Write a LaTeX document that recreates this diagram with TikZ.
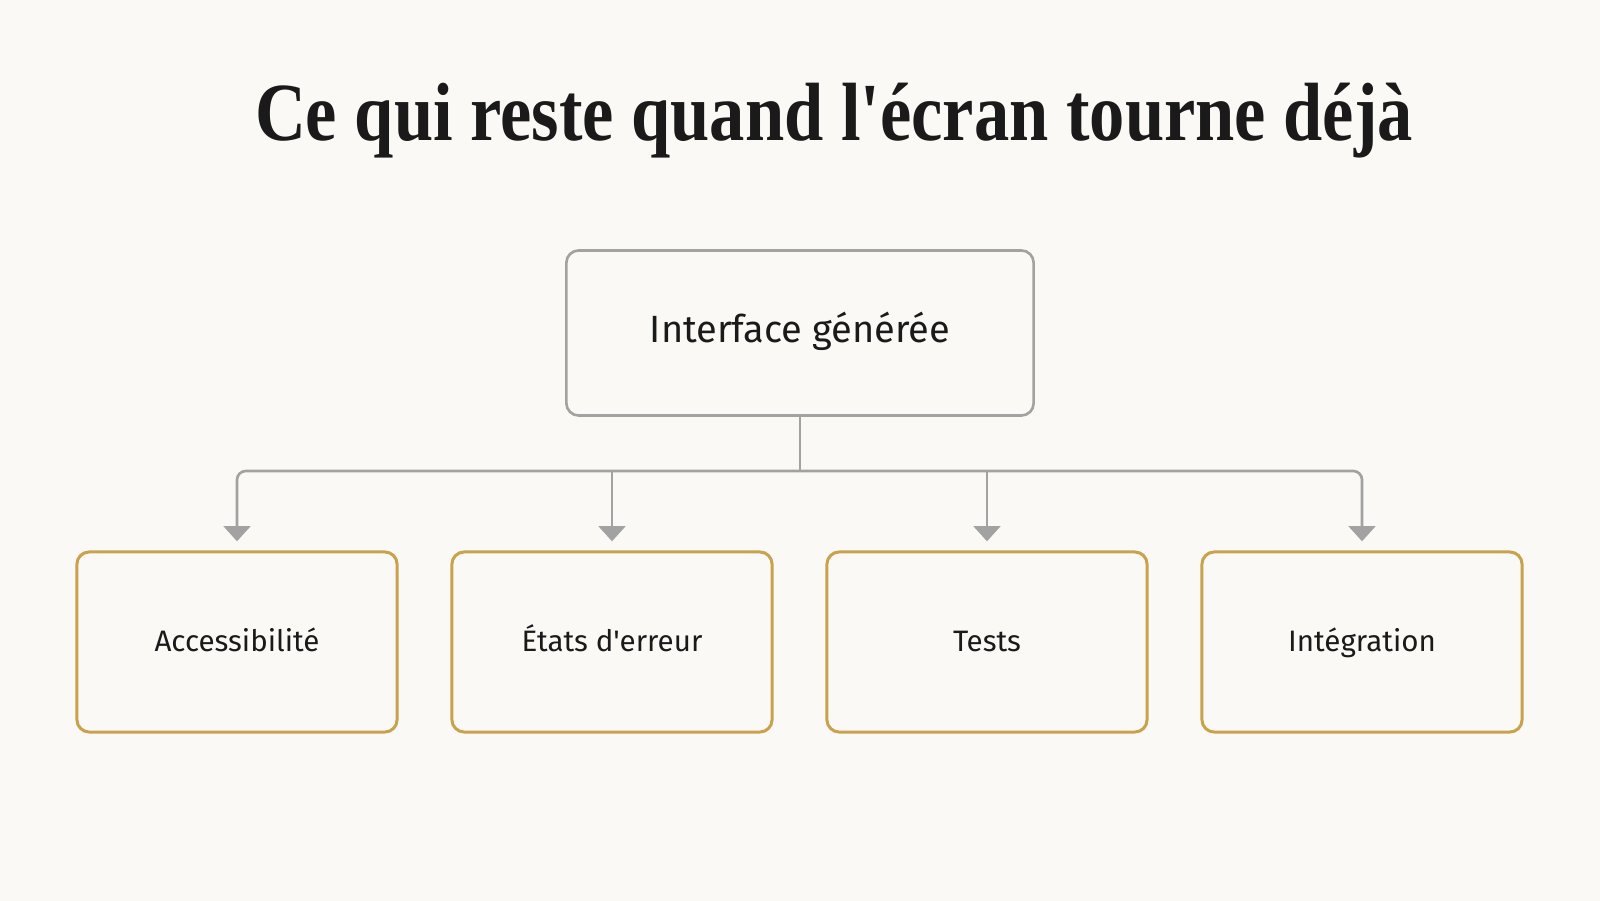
\documentclass[tikz,border=0pt]{standalone}
\usepackage{fontspec}
\usepackage{graphicx}
\newfontfamily\titlefont{Liberation Serif}
\newfontfamily\labelfont{Fira Sans}
\usetikzlibrary{arrows.meta}
\definecolor{paper}{HTML}{FAF9F5}
\definecolor{ink}{HTML}{1A1A1A}
\definecolor{wire}{HTML}{A2A2A2}
\definecolor{gold}{HTML}{C9A24E}
\begin{document}
\begin{tikzpicture}[x=0.01cm,y=-0.01cm,
	   topbox/.style={draw=wire,line width=0.75pt,rounded corners=3.5pt,fill=paper,text=ink,text height=1.8ex,text depth=0.5ex},
	   leafbox/.style={draw=gold,line width=0.85pt,rounded corners=3.5pt,fill=paper,text=ink,text height=1.8ex,text depth=0.5ex},
	   conn/.style={draw=wire,line width=0.75pt,rounded corners=2.5pt},
	   tip/.style={-{Triangle[width=7.6pt,length=4.3pt]},shorten >=2.6pt}]
	   \fill [paper] (0,0) rectangle (1600,901);
	   \useasboundingbox (0,0) rectangle (1600,901);
	   \node (title) [text=ink,font=\titlefont\bfseries\fontsize{23.5}{28}\selectfont,anchor=base] at (834,141) {\scalebox{0.853}[1]{Ce qui reste quand l'écran tourne déjà}};
	   \node (top) [topbox,minimum width=4.67cm,minimum height=1.65cm,font=\labelfont\fontsize{10.8}{13}\selectfont] at (800,333) {Interface générée};
	   \node (acc) [leafbox,minimum width=3.2cm,minimum height=1.8cm,font=\labelfont\fontsize{8.4}{10}\selectfont] at (237,642) {Accessibilité};
	   \node (err) [leafbox,minimum width=3.2cm,minimum height=1.8cm,font=\labelfont\fontsize{8.4}{10}\selectfont] at (612,642) {États d'erreur};
	   \node (tst) [leafbox,minimum width=3.2cm,minimum height=1.8cm,font=\labelfont\fontsize{8.4}{10}\selectfont] at (987,642) {Tests};
	   \node (int) [leafbox,minimum width=3.2cm,minimum height=1.8cm,font=\labelfont\fontsize{8.4}{10}\selectfont] at (1362,642) {Intégration};
	   \coordinate (bus) at (800,471);
	   \draw[conn] (top.south) -- (bus);
	   \draw[conn,tip] (bus) -| (acc.north);
	   \draw[conn,tip] (bus) -| (int.north);
	   \draw[conn,tip] (err.north |- bus) -- (err.north);
	   \draw[conn,tip] (tst.north |- bus) -- (tst.north);
\end{tikzpicture}
\end{document}
